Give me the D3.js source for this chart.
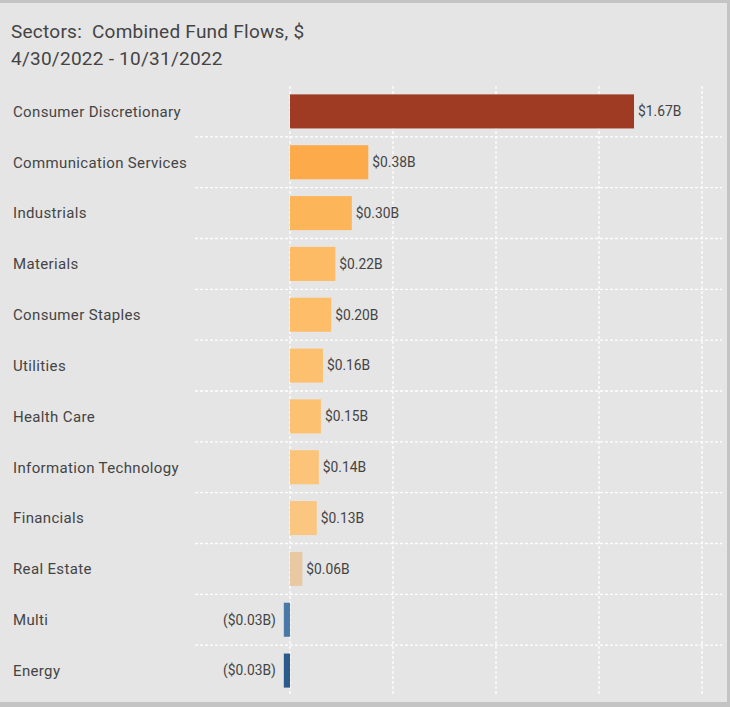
<!DOCTYPE html>
<html>
<head>
<meta charset="utf-8">
<script src="https://cdn.jsdelivr.net/npm/d3@7"></script>
<style>
  body { margin: 0; background: #ffffff; }
  text { font-family: Roboto, "Noto Sans", sans-serif; fill: #444; }
</style>
</head>
<body>
<div id="chart"></div>
<script>
// data
const sectors = ["Consumer Discretionary", "Communication Services", "Industrials", "Materials",
  "Consumer Staples", "Utilities", "Health Care", "Information Technology", "Financials",
  "Real Estate", "Multi", "Energy"];
const flows = [1.67, 0.38, 0.30, 0.22, 0.20, 0.16, 0.15, 0.14, 0.13, 0.06, -0.03, -0.03];
const barColors = ["#9e3b22", "#fdaa4b", "#fdb55a", "#fdbb65", "#fdbd69", "#fdc06e", "#fdc172",
  "#fcc479", "#fbc680", "#e9c9a4", "#4a79a8", "#2b5b8a"];
const xTicks = [0, 0.5, 1, 1.5, 2];
const titleLines = ["Sectors:  Combined Fund Flows, $", "4/30/2022 - 10/31/2022"];

const width = 730, height = 707;

const svg = d3.select("#chart").append("svg")
  .attr("width", width)
  .attr("height", height);

// panel + borders
svg.append("rect").attr("x", 0).attr("y", 0).attr("width", width).attr("height", height).attr("fill", "#c4c4c4");
svg.append("rect").attr("x", 0).attr("y", 3).attr("width", 727).attr("height", 699).attr("fill", "#e5e5e5");

// title (keep the double space)
svg.selectAll("text.title")
  .data(titleLines)
  .enter().append("text")
  .attr("class", "title")
  .attr("x", 11)
  .attr("y", (d, i) => 38 + i * 27)
  .attr("font-size", 19)
  .style("white-space", "pre")
  .style("letter-spacing", "0.25px")
  .text(d => d);

const x = d3.scaleLinear().domain([0, 2]).range([290, 702]);
const y = d3.scaleBand().domain(sectors).range([86, 696]).paddingInner(0.33).paddingOuter(0.165);
const step = y.step();

// grid: horizontal dashed lines between rows
const g = svg.append("g");
g.selectAll("line.hgrid")
  .data(sectors.slice(1))
  .enter().append("line")
  .attr("x1", 195).attr("x2", 722)
  .attr("y1", d => y(d) - (step - y.bandwidth()) / 2)
  .attr("y2", d => y(d) - (step - y.bandwidth()) / 2)
  .attr("stroke", "#fff").attr("stroke-width", 1.3).attr("stroke-dasharray", "3,2");

// vertical grid at ticks
g.selectAll("line.vgrid")
  .data(xTicks)
  .enter().append("line")
  .attr("x1", d => x(d)).attr("x2", d => x(d))
  .attr("y1", 86).attr("y2", 696)
  .attr("stroke", "#fff").attr("stroke-width", 1.3).attr("stroke-dasharray", "3,2");

// bars
svg.selectAll("rect.bar")
  .data(flows)
  .enter().append("rect")
  .attr("class", "bar")
  .attr("x", d => x(Math.min(0, d)))
  .attr("y", (d, i) => y(sectors[i]))
  .attr("width", d => Math.abs(x(d) - x(0)))
  .attr("height", y.bandwidth())
  .attr("fill", (d, i) => barColors[i]);

// category labels
svg.selectAll("text.cat")
  .data(sectors)
  .enter().append("text")
  .attr("x", 13)
  .attr("y", d => y(d) + y.bandwidth() / 2)
  .attr("dy", "0.35em")
  .attr("font-size", 15)
  .style("letter-spacing", "0.35px")
  .text(d => d);

// value labels
const fmt = v => (v < 0 ? "($" + Math.abs(v).toFixed(2) + "B)" : "$" + v.toFixed(2) + "B");
svg.selectAll("text.val")
  .data(flows)
  .enter().append("text")
  .attr("x", d => d < 0 ? x(d) - 8 : x(d) + 4)
  .attr("y", (d, i) => y(sectors[i]) + y.bandwidth() / 2)
  .attr("dy", "0.35em")
  .attr("text-anchor", d => d < 0 ? "end" : "start")
  .attr("font-size", 13.8)
  .text(fmt);
</script>
</body>
</html>
